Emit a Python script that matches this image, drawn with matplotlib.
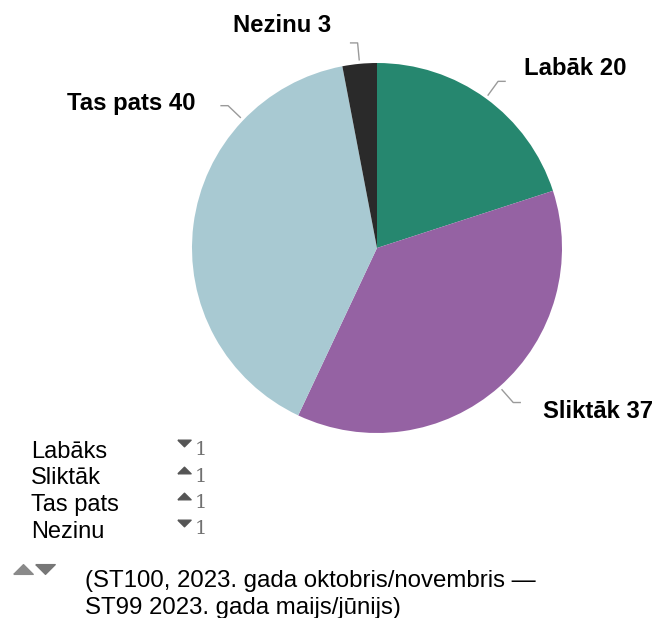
import numpy as np
import matplotlib.pyplot as plt
from matplotlib.path import Path

# data
labels = ['Labāk', 'Sliktāk', 'Tas pats', 'Nezinu']
values = [20, 37, 40, 3]
colors = ['#26876f', '#9562a3', '#a8c9d2', '#2a2a2a']

legend_names = ['Labāks', 'Sliktāk', 'Tas pats', 'Nezinu']
change_dir = ['down', 'up', 'up', 'down']
change_val = [1, 1, 1, 1]

note_lines = ['(ST100, 2023. gada oktobris/novembris —',
              'ST99 2023. gada maijs/jūnijs)']

W, H = 655, 618
plt.rcParams['font.family'] = ['Liberation Sans', 'DejaVu Sans']

fig = plt.figure(figsize=(W / 100, H / 100), dpi=100)
ax = fig.add_axes([0, 0, 1, 1])

def Y(y):
    # top-down pixel -> axes coords
    return H - y

cx, cy, R = 377, Y(248), 185
wedges, _ = ax.pie(values, colors=colors, startangle=90, counterclock=False,
                   center=(cx, cy), radius=R, wedgeprops=dict(linewidth=0))

# label layout: angle shift, text offset from end of connector, baseline
label_shift = [0, 0, -36.5, 0]
label_dx = [19, 23, -26, -19]
label_base = [75, 418, 110, 32]

for w, name, v, sh, dx, yb in zip(wedges, labels, values, label_shift,
                                   label_dx, label_base):
    ang = np.deg2rad((w.theta1 + w.theta2) / 2 + sh)
    side = 1 if np.cos(ang) >= 0 else -1
    x1, y1 = cx + 189 * np.cos(ang), cy + 189 * np.sin(ang)
    x2, y2 = cx + 206 * np.cos(ang), cy + 206 * np.sin(ang)
    x3 = x2 + 7 * side
    ax.plot([x1, x2, x3], [y1, y2, y2], color='#9a9a9a', lw=1)
    ax.text(x3 + dx, Y(yb), f'{name} {v}', fontsize=17.2, fontweight='bold',
            ha='left' if side > 0 else 'right', va='baseline')

# flat triangle markers
up_tri = Path([(-1, -0.5), (1, -0.5), (0, 0.5), (-1, -0.5)])
down_tri = Path([(-1, 0.5), (1, 0.5), (0, -0.5), (-1, 0.5)])

for i, (nm, d, cv) in enumerate(zip(legend_names, change_dir, change_val)):
    yb = 458 + i * 26.5
    ax.text(31, Y(yb), nm, fontsize=17, va='baseline', ha='left')
    ax.plot(184, Y(yb - 15), marker=up_tri if d == 'up' else down_tri,
            markersize=9.5, color='#555555', ls='none')
    ax.text(195, Y(yb - 3), str(cv), fontsize=14, family='DejaVu Serif',
            color='#707070', va='baseline', ha='left')

ax.plot(23, Y(569), marker=up_tri, markersize=14, color='#8a8a8a', ls='none')
ax.plot(45, Y(569), marker=down_tri, markersize=14, color='#777777', ls='none')
for i, line in enumerate(note_lines):
    ax.text(85, Y(587 + i * 27), line, fontsize=17.3, va='baseline', ha='left')

ax.set_xlim(0, W)
ax.set_ylim(0, H)
ax.set_aspect('auto')
ax.axis('off')

fig.savefig('out.png', dpi=100)
